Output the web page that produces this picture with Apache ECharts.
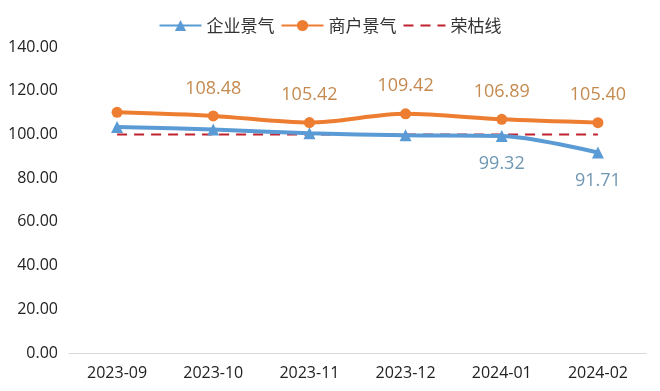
<!DOCTYPE html>
<html><head><meta charset="utf-8">
<script src="https://cdn.jsdelivr.net/npm/echarts@6/dist/echarts.min.js"></script>
<style>html,body{margin:0;padding:0;background:#fff}#c{width:660px;height:391px}</style>
</head><body><div id="c"></div>
<script>
var categories = ['2023-09','2023-10','2023-11','2023-12','2024-01','2024-02'];
var enterprise = [103.4, 102.3, 100.5, 99.6, 99.32, 91.71];
var merchant = [110.1, 108.48, 105.42, 109.42, 106.89, 105.40];
var boomBust = [100, 100, 100, 100, 100, 100];
var enterpriseLabelShown = [false, false, false, false, true, true];
var merchantLabelShown = [false, true, true, true, true, true];
var yTicks = [0, 20, 40, 60, 80, 100, 120, 140];

var font = '"Open Sans","Noto Sans CJK SC",sans-serif';
function mk(vals, shown){ return vals.map(function(v,i){ return {value:v, label:{show:shown[i]}}; }); }
var chart = echarts.init(document.getElementById('c'));
chart.setOption({
  animation:false,
  legend:{top:12,left:'center',itemWidth:42,itemHeight:14,itemGap:6,
    textStyle:{fontSize:17,color:'#333',fontFamily:'"Noto Sans CJK SC",sans-serif'},
    data:['企业景气','商户景气',{name:'荣枯线',itemStyle:{opacity:0}}]},
  grid:{left:69,right:14,top:47,bottom:38},
  xAxis:{type:'category',data:categories,boundaryGap:true,
    axisLine:{lineStyle:{color:'#d9d9d9',width:1}},axisTick:{show:false},
    axisLabel:{fontSize:16,color:'#222',margin:12,fontFamily:font}},
  yAxis:{type:'value',min:yTicks[0],max:yTicks[yTicks.length-1],interval:20,
    axisLine:{show:false},axisTick:{show:false},splitLine:{show:false},
    axisLabel:{fontSize:16,color:'#222',margin:11,fontFamily:font,formatter:function(v){return v.toFixed(2);}}},
  series:[
    {name:'企业景气',type:'line',smooth:0.3,data:mk(enterprise,enterpriseLabelShown),
      symbol:'triangle',symbolSize:12,
      lineStyle:{color:'#5B9BD5',width:4},itemStyle:{color:'#5B9BD5'},
      label:{position:'bottom',distance:13,fontSize:18,color:'#6F97B3',fontFamily:font,formatter:function(p){return p.value.toFixed(2);}},z:3},
    {name:'商户景气',type:'line',smooth:0.3,data:mk(merchant,merchantLabelShown),
      symbol:'circle',symbolSize:11,
      lineStyle:{color:'#ED7D31',width:4},itemStyle:{color:'#ED7D31'},
      label:{position:'top',distance:13,fontSize:18,color:'#C48A4F',fontFamily:font,formatter:function(p){return p.value.toFixed(2);}},z:4},
    {name:'荣枯线',type:'line',data:boomBust,symbol:'none',
      lineStyle:{color:'#C0232E',width:2,type:[10,7]},itemStyle:{color:'#C0232E'},z:2}
  ]
});
</script></body></html>
